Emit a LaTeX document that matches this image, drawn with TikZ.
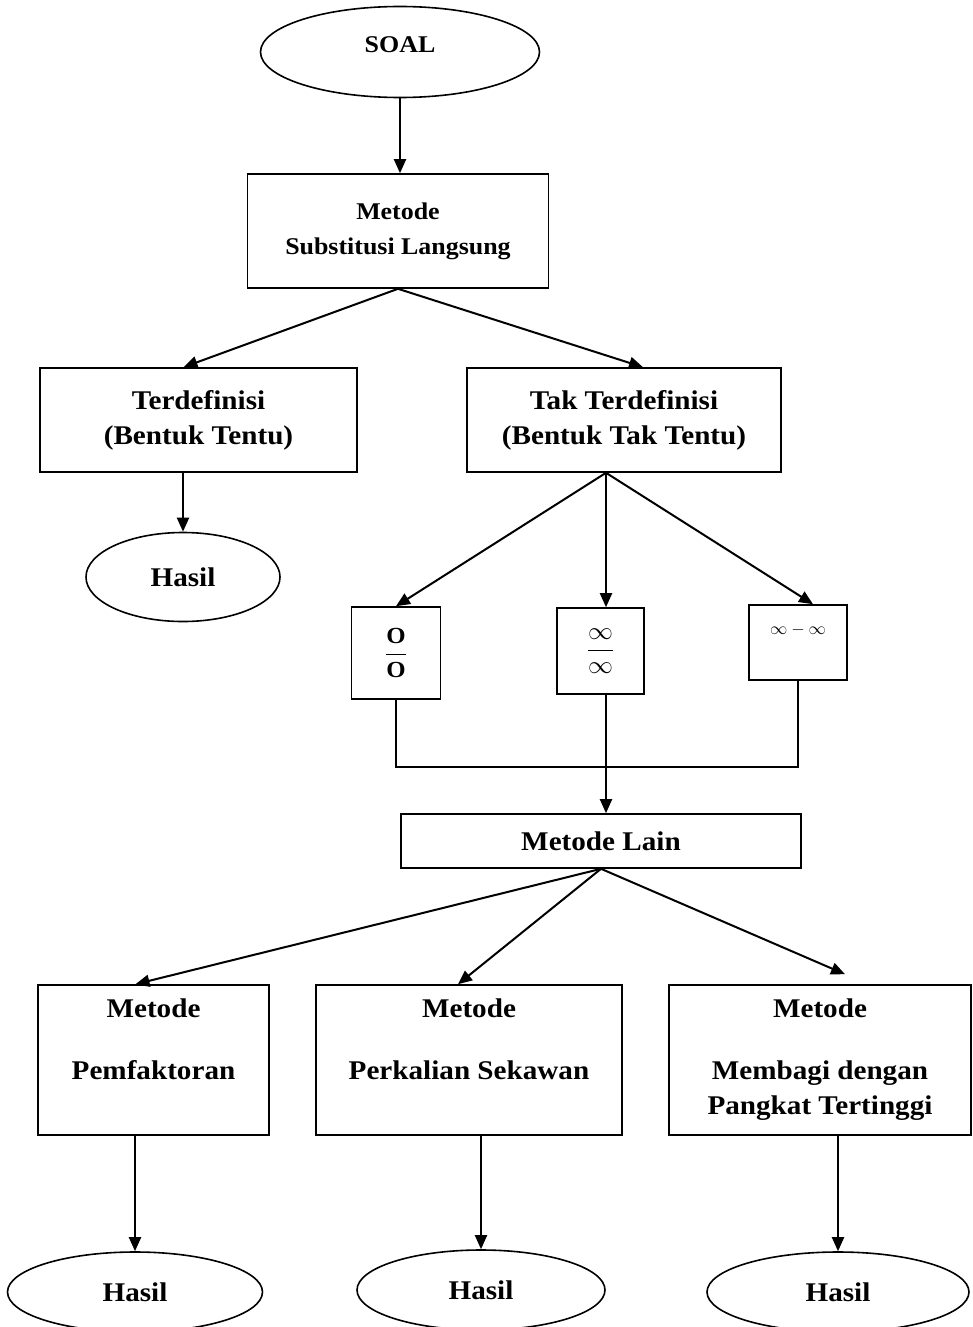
\documentclass[tikz,border=0pt]{standalone}
\usepackage{amsmath}
\usepackage{fontspec}
\setmainfont{Liberation Serif}[FakeStretch=1.08]
\usepackage{tikz}
\usetikzlibrary{arrows.meta, shapes.geometric}
\tikzset{
    flowchart/.style={x=1pt, y=-1pt, line width=1.6pt, >={Triangle[length=14pt,width=12pt]},
        font=\fontsize{27}{35}\selectfont\bfseries},
    box/.style={draw, rectangle, align=center, inner sep=0pt},
    oval/.style={draw, ellipse, inner sep=0pt},
    smalltext/.style={font=\fontsize{24}{35}\selectfont\bfseries},
    formbox/.style={draw, rectangle, inner sep=0pt, font=\fontsize{23}{25}\selectfont\bfseries},
    link/.style={->, line width=2pt},
}

\begin{document}
\begin{tikzpicture}[flowchart]
    \useasboundingbox (0,0) rectangle (973,1327);

    \node[oval, smalltext, minimum width=279, minimum height=91, text depth=14pt] (soal) at (400,52) {SOAL};
    \node[box, smalltext, minimum width=301, minimum height=114] (sub) at (398,231) {Metode\\Substitusi Langsung};

    \node[box, minimum width=317, minimum height=104] (def) at (198.5,420) {Terdefinisi\\(Bentuk Tentu)};
    \node[box, minimum width=314, minimum height=104] (tak) at (624,420) {Tak Terdefinisi\\(Bentuk Tak Tentu)};
    \node[oval, minimum width=194, minimum height=89] (hasilA) at (183,577) {Hasil};

    % three indeterminate forms
    \node[formbox, minimum width=89, minimum height=92] (oo) at (396,653) {$\dfrac{\textbf{O}}{\textbf{O}}$};
    \node[formbox, minimum width=87, minimum height=86] (ii) at (600.5,651) {$\dfrac{\infty}{\infty}$};
    \node[formbox, font=\fontsize{16}{20}\selectfont, minimum width=98, minimum height=75, text depth=26pt] (mm) at (798,642.5) {$\infty-\infty$};
    \coordinate (fan) at ([xshift=-18pt]tak.south);
    \coordinate (join) at (606,767);

    \node[box, minimum width=400, minimum height=54] (lain) at (601,841) {Metode Lain};

    \node[box, minimum width=231, minimum height=150] (pf) at (153.5,1060) {Metode\\[27pt]Pemfaktoran\\\phantom{Pg}};
    \node[box, minimum width=306, minimum height=150] (ps) at (469,1060) {Metode\\[27pt]Perkalian Sekawan\\\phantom{Pg}};
    \node[box, minimum width=302, minimum height=150] (tinggi) at (820,1060) {Metode\\[27pt]Membagi dengan\\Pangkat Tertinggi};

    \node[oval, minimum width=255, minimum height=80] (hasilB) at (135,1292) {Hasil};
    \node[oval, minimum width=248, minimum height=80] (hasilC) at (481,1290) {Hasil};
    \node[oval, minimum width=262, minimum height=80] (hasilD) at (838,1292) {Hasil};

    \draw[link] (soal.south) -- (soal.south |- sub.north);
    \draw[link] (sub.south) -- ([xshift=-15pt]def.north);
    \draw[link] (sub.south) -- ([xshift=19pt]tak.north);
    \draw[link] (def.south -| hasilA.north) -- (hasilA.north);

    \draw[link] (fan) -- (oo.north);
    \draw[link] (fan) -- (fan |- ii.north);
    \draw[link] (fan) -- ([xshift=15pt]mm.north);

    \draw (oo.south) |- (join) -| (mm.south);
    \draw[link] (fan |- ii.south) -- (fan |- lain.north);

    \draw[link] (lain.south) -- ([xshift=-18pt]pf.north);
    \draw[link] (lain.south) -- ([xshift=-11pt]ps.north);
    \draw[link] (lain.south) -- ([xshift=25pt, yshift=10pt]tinggi.north);

    \draw[link] (hasilB.north |- pf.south) -- (hasilB.north);
    \draw[link] (hasilC.north |- ps.south) -- (hasilC.north);
    \draw[link] (hasilD.north |- tinggi.south) -- (hasilD.north);
\end{tikzpicture}
\end{document}
